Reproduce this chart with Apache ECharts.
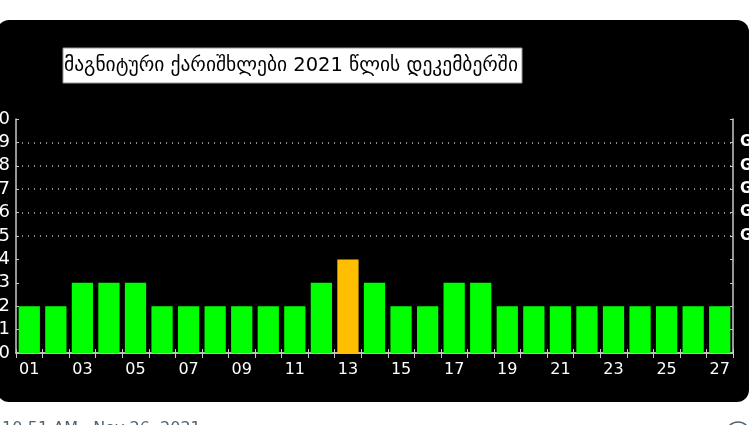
<!DOCTYPE html>
<html>
<head>
<meta charset="utf-8">
<script src="https://cdn.jsdelivr.net/npm/echarts@6/dist/echarts.min.js"></script>
<style>
  html, body { margin: 0; padding: 0; background: #fff; }
  #chart { width: 750px; height: 425px; }
</style>
</head>
<body>
<div id="chart"></div>
<script>
// days of december and the Kp index per day
var days = ['01', '02', '03', '04', '05', '06', '07', '08', '09', '10', '11', '12', '13', '14',
  '15', '16', '17', '18', '19', '20', '21', '22', '23', '24', '25', '26', '27']
var kpValues = [2, 2, 3, 3, 3, 2, 2, 2, 2, 2, 2, 3, 4, 3, 2, 2, 3, 3, 2, 2, 2, 2, 2, 2, 2, 2, 2]
// storm levels on the right axis
var gLevels = [5, 6, 7, 8, 9]
var gNames = ['G1', 'G2', 'G3', 'G4', 'G5']
var titleText = 'მაგნიტური ქარიშხლები 2021 წლის დეკემბერში'
var footerText = '10:51 AM · Nov 26, 2021'

var frameColor = '#c8c8c8'
var font = 'DejaVu Sans'

var chart = echarts.init(document.getElementById('chart'))
var option = {
  backgroundColor: '#fff',
  animation: false,
  grid: {
    left: 16,
    right: 17,
    top: 119,
    bottom: 72,
    containLabel: false,
    outerBoundsMode: 'none'
  },
  graphic: [
    {
      type: 'rect',
      z: -10,
      silent: true,
      shape: { x: -3, y: 20, width: 752, height: 382, r: 12 },
      style: { fill: '#000' }
    },
    {
      type: 'rect',
      z: 10,
      shape: { x: 63, y: 48, width: 459, height: 35 },
      style: { fill: '#fff', stroke: '#999', lineWidth: 1 }
    },
    {
      type: 'text',
      z: 11,
      x: 64,
      y: 66,
      style: {
        text: titleText,
        fill: '#000',
        font: '19.5px "DejaVu Sans"',
        verticalAlign: 'middle'
      }
    },
    {
      type: 'text',
      x: 2,
      y: 421,
      style: {
        text: footerText,
        fill: '#536471',
        font: '16px "DejaVu Sans"',
        verticalAlign: 'top'
      }
    },
    {
      type: 'circle',
      shape: { cx: 738, cy: 434, r: 12 },
      style: { fill: 'none', stroke: '#536471', lineWidth: 1.5 }
    }
  ],
  xAxis: [
    {
      type: 'category',
      data: days,
      position: 'bottom',
      axisLine: { lineStyle: { color: frameColor, width: 1.5 } },
      axisTick: { show: true, inside: true, length: 4, interval: 0, lineStyle: { color: frameColor } },
      axisLabel: {
        interval: 1,
        color: '#fff',
        fontFamily: font,
        fontSize: 16,
        margin: 9
      },
      splitLine: { show: false }
    },
    {
      type: 'category',
      data: days,
      position: 'top',
      axisLine: { lineStyle: { color: frameColor, width: 1.5 } },
      axisTick: { show: true, inside: true, length: 5, interval: 0, lineStyle: { color: frameColor } },
      axisLabel: { show: false },
      splitLine: { show: false }
    }
  ],
  yAxis: [
    {
      type: 'value',
      min: 0,
      max: 10,
      interval: 1,
      position: 'left',
      axisLine: { show: true, lineStyle: { color: frameColor, width: 1.5 } },
      axisTick: { show: true, inside: true, length: 3, lineStyle: { color: frameColor } },
      axisLabel: { color: '#fff', fontFamily: font, fontSize: 18, margin: 6 },
      splitLine: { show: false }
    },
    {
      type: 'value',
      min: 0,
      max: 10,
      interval: 1,
      position: 'right',
      axisLine: { show: true, lineStyle: { color: frameColor, width: 1.5 } },
      axisTick: { show: true, inside: true, length: 3, lineStyle: { color: frameColor } },
      axisLabel: {
        color: '#fff',
        fontFamily: font,
        fontSize: 15,
        fontWeight: 'bold',
        margin: 7,
        formatter: function (v) {
          var i = gLevels.indexOf(v)
          return i >= 0 ? gNames[i] : ''
        }
      },
      splitLine: { show: false }
    }
  ],
  series: [
    {
      type: 'bar',
      data: kpValues,
      barCategoryGap: '20%',
      itemStyle: {
        color: function (p) {
          return p.value >= 4 ? '#ffbf00' : '#00ff00'
        }
      },
      markLine: {
        silent: true,
        symbol: 'none',
        label: { show: false },
        lineStyle: { color: '#bbb', type: [1, 5], width: 1.5 },
        data: gLevels.map(function (v) { return { yAxis: v } })
      }
    }
  ]
}
chart.setOption(option)
window.addEventListener('resize', function () { chart.resize() })
</script>
</body>
</html>
